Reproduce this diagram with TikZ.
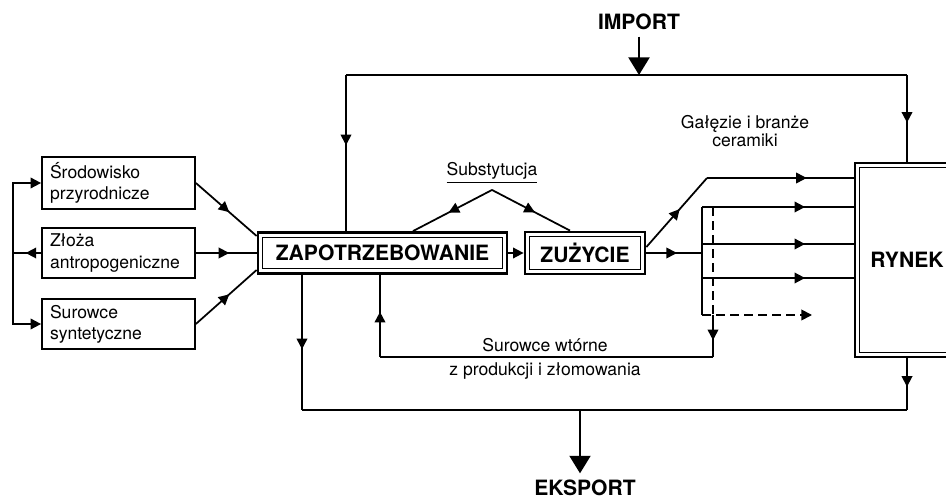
\documentclass[tikz,border=0pt]{standalone}
\usepackage{fontspec}
\setmainfont{TeX Gyre Heros}
\usetikzlibrary{arrows.meta,decorations.markings}

\begin{document}
\begin{tikzpicture}[x=0.02cm, y=-0.02cm, line width=1pt,
	every node/.style={font=\fontsize{10}{12}\selectfont},
	>={Triangle[length=6pt,width=6pt]},
	src/.style={draw, text width=2.74cm, inner xsep=0.16cm, minimum height=1cm, align=left},
	dbl/.style={draw, line width=1.6pt, font=\fontsize{12}{14}\selectfont\bfseries, inner sep=0pt},
	big/.style={font=\fontsize{12}{14}\selectfont\bfseries},
	bigtip/.style={-{Triangle[length=10pt,width=12pt]}},
	mid/.style={postaction={decorate}, decoration={markings, mark=at position #1 with {\arrow{>}}}},
	mid/.default=0.55]
	\useasboundingbox (0,0) rectangle (946,502);
	\node[src] (sro) at (118.5,183) {Środowisko\\przyrodnicze};
	\node[src] (zlo) at (118.5,253) {Złoża\\antropogeniczne};
	\node[src] (sur) at (118.5,324) {Surowce\\syntetyczne};
	\node[dbl, minimum width=4.98cm, minimum height=0.82cm] (zap) at (382.5,253) {ZAPOTRZEBOWANIE};
	\node[dbl, minimum width=2.4cm, minimum height=0.84cm] (zuz) at (585,253) {ZUŻYCIE};
	\node[dbl, minimum width=2.08cm, minimum height=3.88cm] (ryn) at (907,260) {RYNEK};
	\foreach \n in {zap,zuz,ryn}
		\draw[line width=0.7pt] ([shift={(3.5pt,-3.5pt)}]\n.north west) rectangle ([shift={(-3.5pt,3.5pt)}]\n.south east);
	\coordinate (bus) at (13,253);
	\draw[mid] (zlo.west) -- (bus);
	\draw[->] (bus) |- (sro.west);
	\draw[->] (bus) |- (sur.west);
	\draw[mid] (sro.east) -- ([yshift=0.34cm]zap.west);
	\draw[mid] (zlo.east) -- (zap.west);
	\draw[mid] (sur.east) -- ([yshift=-0.34cm]zap.west);
	\draw[->] (zap.east) -- (zuz.west);
	\node (sub) at (492,173) {\underline{Substytucja}};
	\draw[mid] (sub.south) -- ([xshift=0.61cm]zap.north);
	\draw[mid] (sub.south) -- ([xshift=-0.3cm]zuz.north);
	\node[big] (imp) at (639,22) {IMPORT};
	\coordinate (imc) at (639,75);
	\coordinate (iml) at (346,75);
	\coordinate (imr) at (907,75);
	\draw[bigtip] (imp.south) -- (imc);
	\draw (iml) -- (imr);
	\draw[mid=0.45] (iml) -- (iml |- zap.north);
	\draw[mid] (imr) -- (ryn.north);
	\node[align=center, font=\fontsize{10}{10}\selectfont] (gal) at (745,131) {Gałęzie i branże\\ceramiki};
	\coordinate (gt) at (707,178);
	\draw[mid] ([yshift=0.12cm]zuz.east) -- (gt);
	\draw[mid=0.68] (gt) -- (gt -| ryn.west);
	\coordinate (bx) at (702,253);
	\draw[mid] (zuz.east) -- (bx);
	\foreach \y [count=\i] in {207,244,278,315}
		\coordinate (br\i) at (702,\y);
	\draw (br1) -- (br4);
	\foreach \i in {1,2,3}
		\draw[mid=0.68] (br\i) -- (br\i -| ryn.west);
	\coordinate (dsh) at (812,315);
	\draw[dash pattern=on 5pt off 3pt, ->] (br4) -- (dsh);
	\coordinate (rt) at (713,207);
	\coordinate (rb) at (713,315);
	\coordinate (rc) at (713,357);
	\coordinate (rl) at (380,357);
	\draw[dash pattern=on 5pt off 3pt] (rt) -- (rb);
	\draw[mid=0.6] (rb) -- (rc);
	\draw (rc) -- (rl);
	\draw[mid] (rl) -- (rl |- zap.south);
	\node[align=center, font=\fontsize{10}{13.6}\selectfont] (wt) at (545,359) {Surowce wtórne\\z produkcji i złomowania};
	\coordinate (el) at (302,410);
	\coordinate (er) at (907,410);
	\coordinate (ec) at (580,410);
	\draw[mid] (el |- zap.south) -- (el);
	\draw (el) -- (er);
	\draw[mid] (ryn.south) -- (er);
	\node[big] (exp) at (585,488) {EKSPORT};
	\draw[bigtip] (ec) -- (ec |- exp.north);
\end{tikzpicture}
\end{document}
